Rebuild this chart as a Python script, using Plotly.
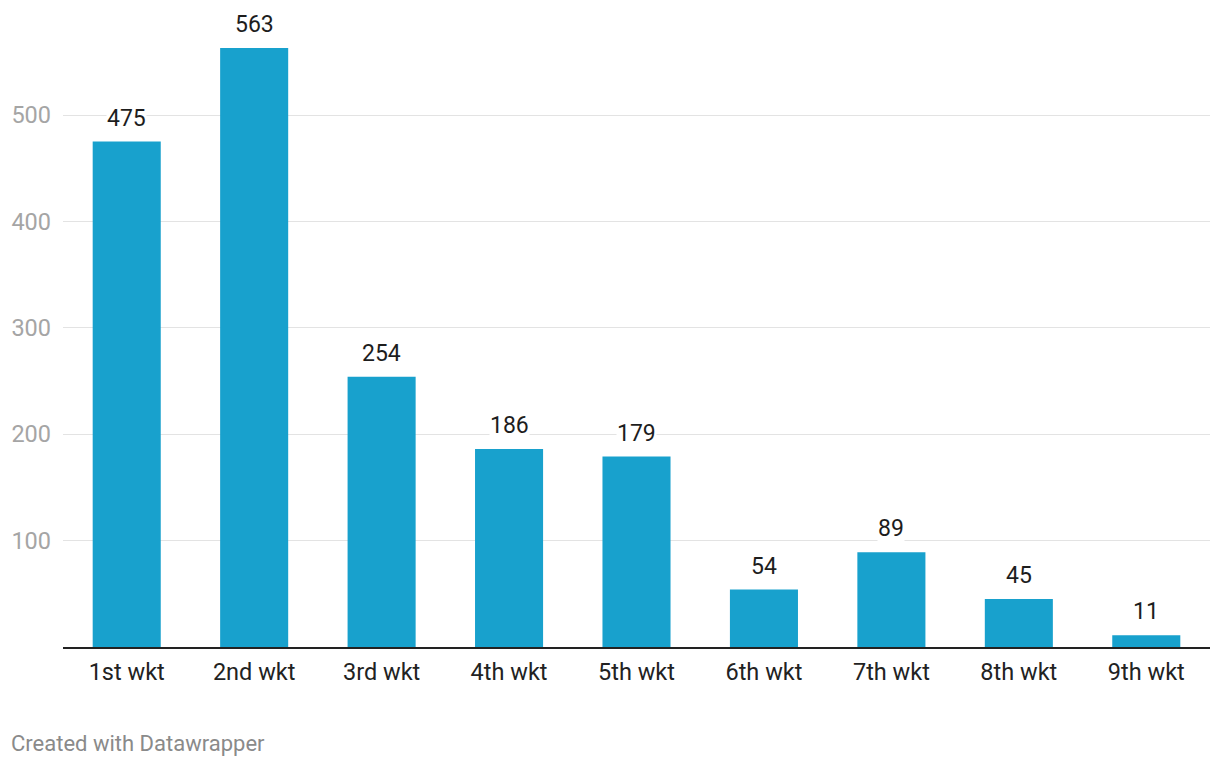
import plotly.graph_objects as go

categories = ["1st wkt", "2nd wkt", "3rd wkt", "4th wkt", "5th wkt", "6th wkt", "7th wkt", "8th wkt", "9th wkt"]
values = [475, 563, 254, 186, 179, 54, 89, 45, 11]
tick_values = [100, 200, 300, 400, 500]

FONT = "Roboto"
# page body has an 8px margin: figure occupies page x 8..1212, y 8..760
W, H = 1204, 752
ML, MR, MT, MB = 55.3, 2.3, 12, 113
PW, PH = W - ML - MR, H - MT - MB

fig = go.Figure()
fig.add_trace(go.Bar(x=categories, y=values, marker=dict(color="#18a1cd", line=dict(width=0)),
                     hoverinfo="x+y"))

for c, v in zip(categories, values):
    fig.add_annotation(x=c, y=v, text=str(v), showarrow=False, yanchor="bottom", yshift=9,
                       font=dict(family=FONT, size=23, color="#1d1d1d"),
                       bgcolor="white", borderpad=0)

fig.add_annotation(xref="paper", yref="paper", x=-(ML - 1) / PW, y=-(743 - 647) / PH,
                   xanchor="left", yanchor="middle",
                   text="Created with Datawrapper", showarrow=False,
                   font=dict(family=FONT, size=22, color="#8a8a8a"))

fig.update_layout(
    width=W, height=H,
    margin=dict(l=ML, r=MR, t=MT, b=MB),
    plot_bgcolor="white", paper_bgcolor="white",
    bargap=0.466,
    showlegend=False,
    font=dict(family=FONT),
    xaxis=dict(showgrid=False, showline=True, linecolor="#222", linewidth=2,
               ticks="", tickfont=dict(family=FONT, size=23.5, color="#222"),
               ticklabelstandoff=3),
    yaxis=dict(range=[0, 589.3], tickvals=tick_values, showgrid=True, gridcolor="#e3e3e3", gridwidth=1,
               zeroline=False, showline=False, ticks="",
               tickfont=dict(family=FONT, size=23.5, color="#a5a5a5"), ticklabelstandoff=11),
)

fig.write_html("out.html")
